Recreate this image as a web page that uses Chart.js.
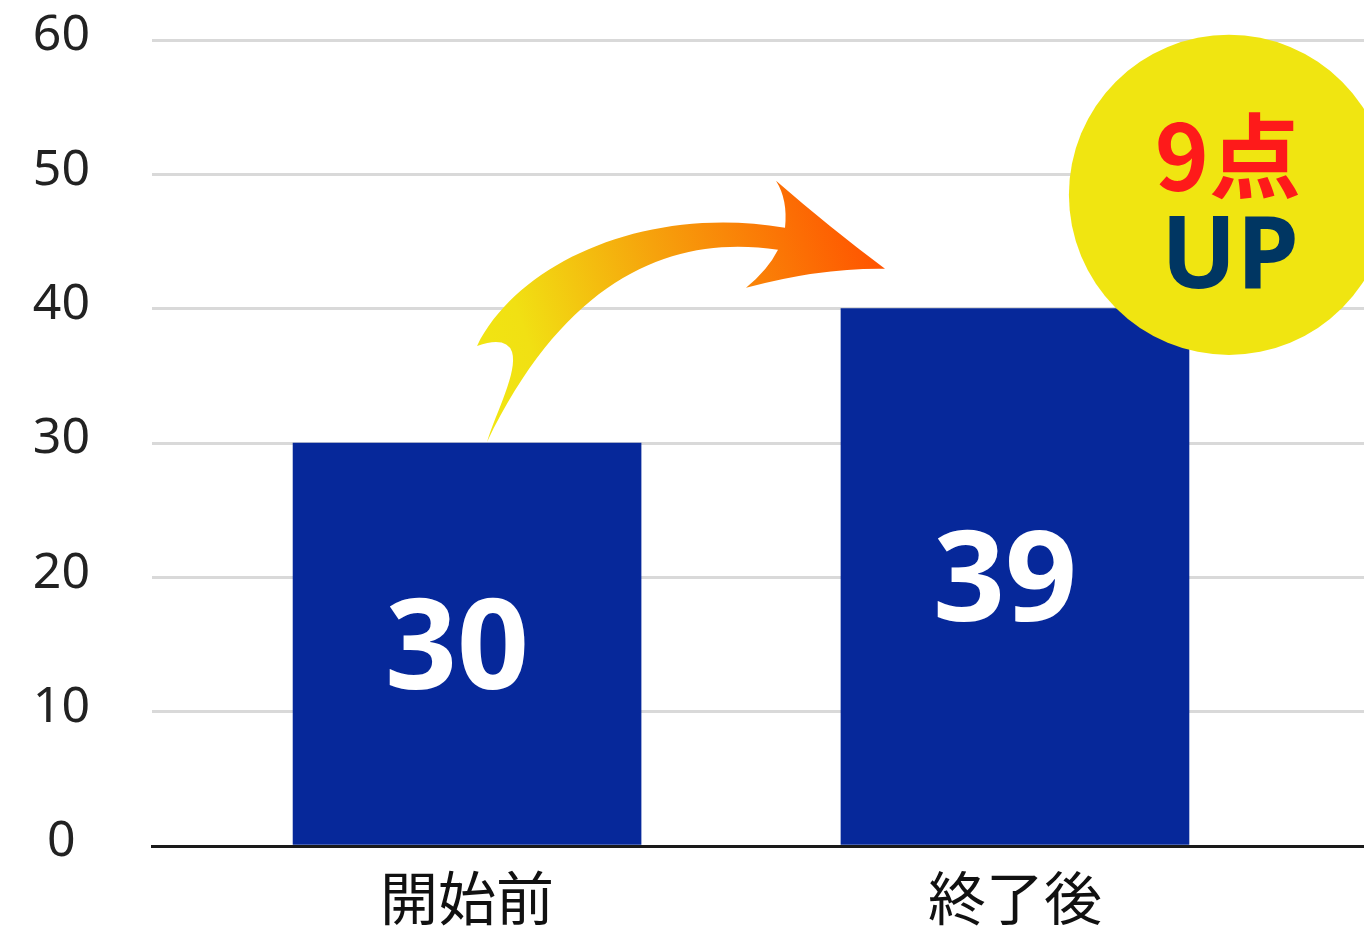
<!DOCTYPE html>
<html>
<head>
<meta charset="utf-8">
<script src="https://cdn.jsdelivr.net/npm/chart.js@4.4.1/dist/chart.umd.min.js"></script>
<style>
  html, body { margin: 0; padding: 0; background: #ffffff; }
  #wrap { width: 1364px; height: 926px; position: relative; }
</style>
</head>
<body>
<div id="wrap"><canvas id="c"></canvas></div>
<script>
// ---- data ----
const categories = ['開始前', '終了後'];
const barValues = [30, 40];
const valueLabels = ['30', '39'];
const yTicks = [0, 10, 20, 30, 40, 50, 60];
const badgeTop = '9点';
const badgeBottom = 'UP';

const FONT = '"Noto Sans", "Noto Sans CJK JP", sans-serif';
const CJK = '"Noto Sans CJK JP", "Noto Sans", sans-serif';

const decorPlugin = {
  id: 'decor',
  afterDatasetsDraw(chart) {
    const ctx = chart.ctx;
    const xs = chart.scales.x, ys = chart.scales.y;
    const x0 = xs.getPixelForValue(0), x1 = xs.getPixelForValue(1);
    const yb = ys.getPixelForValue(0), y10 = ys.getPixelForValue(10);
    const P = (rx, ry) => [x0 + (rx - 467) / 548 * (x1 - x0), yb + (ry - 846) / 134.3 * (yb - y10)];

    const meta = chart.getDatasetMeta(0);
    ctx.save();
    ctx.fillStyle = '#ffffff';
    ctx.font = 'bold 126px ' + FONT;
    ctx.textAlign = 'center';
    ctx.textBaseline = 'middle';
    meta.data.forEach((el, i) => {
      ctx.fillText(valueLabels[i], el.x - 10, (el.y + el.base) / 2 + 9);
    });
    ctx.restore();

    ctx.save();
    const a = P(480, 400), b = P(885, 260);
    const g = ctx.createLinearGradient(a[0], a[1], b[0], b[1]);
    g.addColorStop(0, '#f1e612');
    g.addColorStop(0.15, '#f1e013');
    g.addColorStop(0.5, '#f6a20c');
    g.addColorStop(1, '#ff5200');
    ctx.fillStyle = g;
    ctx.beginPath();
    const m = (a, b) => { const p = P(a, b); ctx.moveTo(p[0], p[1]); };
    const q = (a, b, c, d) => { const p = P(a, b), r = P(c, d); ctx.quadraticCurveTo(p[0], p[1], r[0], r[1]); };
    const cb = (a, b, c, d, e, f) => { const p = P(a, b), r = P(c, d), s = P(e, f); ctx.bezierCurveTo(p[0], p[1], r[0], r[1], s[0], s[1]); };
    m(487, 442);
    cb(496, 412, 518, 372, 512, 352);
    q(506, 336, 477, 346);
    cb(520, 260, 650, 205, 785, 228);
    q(788, 200, 776, 181);
    q(830, 228, 885, 269);
    q(820, 268, 746, 288);
    q(768, 270, 778, 250);
    cb(680, 235, 570, 270, 487, 442);
    ctx.closePath();
    ctx.fill();
    ctx.restore();

    ctx.save();
    const c = P(1229, 195);
    const rad = 160 / 134.3 * (yb - y10);
    ctx.fillStyle = '#f0e511';
    ctx.beginPath();
    ctx.arc(c[0], c[1], rad, 0, Math.PI * 2);
    ctx.fill();
    ctx.textAlign = 'center';
    ctx.textBaseline = 'middle';
    ctx.fillStyle = '#fe1a1a';
    ctx.font = 'bold 92px ' + CJK;
    const t = P(1228, 156);
    ctx.fillText(badgeTop, t[0], t[1]);
    ctx.fillStyle = '#003662';
    ctx.font = 'bold 100px ' + FONT;
    const u = P(1230, 260);
    ctx.fillText(badgeBottom, u[0], u[1]);
    ctx.restore();
  }
};

new Chart(document.getElementById('c'), {
  type: 'bar',
  data: {
    datasets: [{
      data: barValues.map((v, i) => ({ x: i, y: v })),
      backgroundColor: '#06289a',
      borderWidth: 0,
      barThickness: 348
    }]
  },
  options: {
    responsive: true,
    maintainAspectRatio: false,
    animation: false,
    devicePixelRatio: 1,
    layout: { padding: { left: 0, right: 0, top: 40, bottom: 0 } },
    plugins: { legend: { display: false }, tooltip: { enabled: false } },
    scales: {
      x: {
        type: 'linear',
        offset: false,
        min: -0.575,
        max: 1.637,
        afterBuildTicks: (s) => { s.ticks = categories.map((c, i) => ({ value: i })); },
        afterFit: (s) => { s.height = 80; s.paddingLeft = 0; s.paddingRight = 0; },
        ticks: {
          callback: (v) => categories[v],
          font: { family: CJK, size: 58, lineHeight: 1 },
          color: '#111111',
          padding: 23,
          maxRotation: 0,
          autoSkip: false
        },
        grid: { display: false, drawTicks: false },
        border: { display: true, color: '#1a1a1a', width: 3 }
      },
      y: {
        min: 0,
        max: 60,
        afterBuildTicks: (s) => { s.ticks = yTicks.map(v => ({ value: v })); },
        afterFit: (s) => { s.width = 152; s.paddingTop = 0; s.paddingBottom = 0; },
        ticks: {
          font: { family: FONT, size: 50 },
          color: '#222222',
          padding: 62,
          crossAlign: 'center',
          labelOffset: -4
        },
        grid: { color: '#d9d9d9', lineWidth: 3, drawTicks: false },
        border: { display: false }
      }
    }
  },
  plugins: [decorPlugin]
});
</script>
</body>
</html>
